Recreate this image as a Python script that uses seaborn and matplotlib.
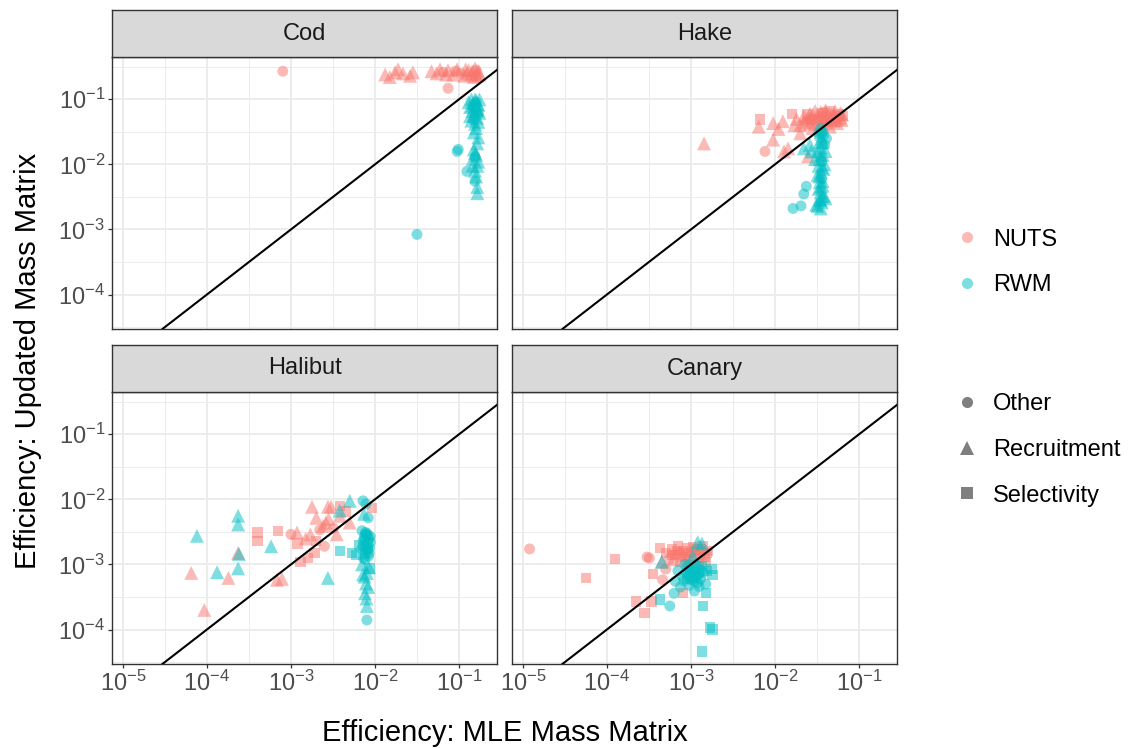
import matplotlib
matplotlib.use("Agg")
import matplotlib.pyplot as plt
import pandas as pd
import seaborn as sns
from matplotlib.lines import Line2D
from matplotlib.ticker import FixedLocator, NullFormatter

# ---------------- data (efficiency values) ----------------
models = ["Cod", "Hake", "Halibut", "Canary"]
methods = ["NUTS", "RWM"]
param_codes = {"O": "Other", "R": "Recruitment", "S": "Selectivity"}
param_order = ["Other", "Recruitment", "Selectivity"]
tick_values = [1e-5, 1e-4, 1e-3, 1e-2, 1e-1]
tick_labels = [r"$10^{-5}$", r"$10^{-4}$", r"$10^{-3}$", r"$10^{-2}$", r"$10^{-1}$"]
x_title = "Efficiency: MLE Mass Matrix"
y_title = "Efficiency: Updated Mass Matrix"

# (MLE efficiency, updated efficiency, parameter group)
cod_nuts = [
    (8.0e-4, 0.27, "O"), (0.0132, 0.24, "R"), (0.0150, 0.22, "R"), (0.0173, 0.26, "R"),
    (0.0188, 0.29, "R"), (0.0215, 0.25, "R"), (0.0261, 0.23, "R"), (0.0283, 0.26, "R"),
    (0.0470, 0.27, "R"), (0.0540, 0.25, "R"), (0.0594, 0.29, "R"), (0.0650, 0.26, "O"),
    (0.0700, 0.24, "R"), (0.0740, 0.28, "R"), (0.0740, 0.148, "O"), (0.0850, 0.24, "R"),
    (0.0900, 0.27, "O"), (0.0950, 0.29, "R"), (0.1050, 0.25, "O"), (0.1150, 0.23, "R"),
    (0.1240, 0.25, "R"), (0.1300, 0.28, "R"), (0.1430, 0.27, "R"), (0.1500, 0.22, "R"),
    (0.1550, 0.30, "R"), (0.1600, 0.25, "R"), (0.1640, 0.23, "R"), (0.1700, 0.27, "R"),
    (0.1750, 0.24, "R"), (0.1400, 0.24, "R"), (0.1200, 0.29, "R"), (0.1600, 0.28, "O"),
]
cod_rwm = [
    (0.140, 0.100, "R"), (0.160, 0.095, "R"), (0.150, 0.088, "R"), (0.170, 0.082, "R"),
    (0.135, 0.076, "R"), (0.160, 0.072, "R"), (0.145, 0.066, "R"), (0.175, 0.062, "R"),
    (0.150, 0.057, "R"), (0.165, 0.052, "R"), (0.140, 0.047, "R"), (0.155, 0.042, "R"),
    (0.160, 0.036, "R"), (0.150, 0.031, "R"), (0.170, 0.026, "R"), (0.165, 0.021, "R"),
    (0.150, 0.017, "R"), (0.160, 0.014, "R"), (0.145, 0.012, "R"), (0.165, 0.0095, "R"),
    (0.155, 0.0080, "R"), (0.160, 0.0065, "R"), (0.165, 0.0045, "R"), (0.165, 0.0036, "R"),
    (0.160, 0.090, "O"), (0.170, 0.060, "O"), (0.150, 0.075, "O"), (0.155, 0.013, "O"),
    (0.095, 0.0158, "O"), (0.098, 0.0170, "O"), (0.124, 0.0078, "O"), (0.155, 0.0055, "O"),
    (0.0316, 8.4e-4, "O"), (0.130, 0.090, "R"), (0.175, 0.100, "R"), (0.155, 0.100, "R"),
    (0.145, 0.080, "R"), (0.165, 0.068, "R"), (0.135, 0.055, "R"), (0.170, 0.045, "R"),
    (0.150, 0.048, "O"), (0.165, 0.085, "R"), (0.155, 0.015, "R"), (0.170, 0.011, "R"),
    (0.145, 0.0095, "R"),
]
hake_nuts = [
    (1.43e-3, 0.021, "R"), (7.6e-3, 0.0158, "O"), (6.6e-3, 0.049, "S"), (6.4e-3, 0.038, "R"),
    (9.5e-3, 0.043, "R"), (0.0124, 0.046, "R"), (9.5e-3, 0.024, "R"), (0.0143, 0.0176, "R"),
    (0.0128, 0.0158, "R"), (0.0247, 0.0133, "R"), (0.0160, 0.059, "S"), (0.0110, 0.035, "R"),
    (0.018, 0.050, "R"), (0.020, 0.040, "R"), (0.022, 0.055, "R"), (0.024, 0.045, "O"),
    (0.026, 0.060, "R"), (0.028, 0.036, "R"), (0.030, 0.050, "S"), (0.032, 0.058, "R"),
    (0.034, 0.042, "R"), (0.036, 0.062, "S"), (0.038, 0.048, "R"), (0.040, 0.055, "R"),
    (0.042, 0.040, "O"), (0.044, 0.060, "R"), (0.046, 0.052, "R"), (0.048, 0.045, "S"),
    (0.050, 0.058, "R"), (0.052, 0.066, "R"), (0.055, 0.050, "R"), (0.058, 0.055, "S"),
    (0.060, 0.062, "R"), (0.062, 0.048, "R"), (0.065, 0.056, "S"), (0.030, 0.066, "R"),
    (0.040, 0.068, "R"), (0.025, 0.052, "R"), (0.035, 0.033, "O"), (0.045, 0.038, "R"),
    (0.020, 0.030, "R"), (0.017, 0.040, "R"), (0.055, 0.043, "R"), (0.038, 0.063, "O"),
    (0.030, 0.045, "R"), (0.027, 0.048, "S"), (0.045, 0.065, "S"), (0.060, 0.052, "R"),
    (0.022, 0.045, "R"), (0.028, 0.058, "R"), (0.033, 0.050, "R"), (0.037, 0.055, "R"),
    (0.042, 0.050, "R"), (0.047, 0.058, "R"), (0.052, 0.054, "R"), (0.057, 0.060, "S"),
    (0.063, 0.058, "R"), (0.026, 0.042, "R"), (0.035, 0.064, "R"), (0.050, 0.047, "R"),
    (0.024, 0.060, "S"),
]
hake_rwm = [
    (0.035, 0.036, "O"), (0.037, 0.032, "O"), (0.033, 0.030, "O"), (0.038, 0.028, "O"),
    (0.036, 0.025, "R"), (0.034, 0.022, "R"), (0.039, 0.020, "O"), (0.035, 0.018, "R"),
    (0.032, 0.016, "R"), (0.037, 0.014, "R"), (0.034, 0.012, "R"), (0.036, 0.011, "O"),
    (0.033, 0.0095, "R"), (0.038, 0.0085, "R"), (0.035, 0.0075, "R"), (0.032, 0.0068, "R"),
    (0.036, 0.0060, "O"), (0.034, 0.0053, "R"), (0.037, 0.0047, "R"), (0.033, 0.0042, "R"),
    (0.035, 0.0037, "R"), (0.038, 0.0033, "R"), (0.034, 0.0029, "R"), (0.036, 0.0026, "R"),
    (0.032, 0.0023, "R"), (0.035, 0.0021, "R"), (0.031, 0.0024, "R"), (0.040, 0.0030, "R"),
    (0.039, 0.010, "R"), (0.030, 0.012, "R"), (0.0164, 0.0021, "O"), (0.0204, 0.0023, "O"),
    (0.022, 0.0035, "O"), (0.0236, 0.0046, "O"), (0.022, 0.0176, "R"), (0.027, 0.0158, "R"),
    (0.026, 0.020, "R"), (0.040, 0.016, "R"), (0.041, 0.025, "O"), (0.036, 0.030, "O"),
    (0.034, 0.026, "O"), (0.037, 0.022, "R"), (0.035, 0.014, "R"), (0.036, 0.0090, "R"),
    (0.034, 0.0065, "R"), (0.037, 0.0055, "R"), (0.035, 0.0045, "R"), (0.036, 0.0032, "R"),
    (0.035, 0.0028, "R"),
]
halibut_nuts = [
    (6.5e-5, 7.4e-4, "R"), (9.3e-5, 2.0e-4, "R"), (1.8e-4, 6.2e-4, "R"), (2.35e-4, 1.5e-3, "R"),
    (4.0e-4, 3.1e-3, "S"), (4.0e-4, 2.3e-3, "S"), (7.0e-4, 3.3e-3, "S"), (6.8e-4, 5.8e-4, "R"),
    (7.8e-4, 6.0e-4, "R"), (1.0e-3, 2.9e-3, "O"), (1.18e-3, 3.1e-3, "R"), (1.2e-3, 2.1e-3, "S"),
    (1.6e-3, 1.25e-3, "S"), (1.9e-3, 1.5e-3, "S"), (1.7e-3, 2.9e-3, "R"), (1.78e-3, 7.7e-3, "R"),
    (2.0e-3, 5.2e-3, "R"), (2.2e-3, 3.4e-3, "O"), (2.5e-3, 1.9e-3, "O"), (2.6e-3, 4.4e-3, "R"),
    (2.75e-3, 7.7e-3, "R"), (3.0e-3, 7.7e-3, "R"), (3.5e-3, 2.9e-3, "R"), (3.8e-3, 5.6e-3, "R"),
    (3.8e-3, 8.0e-3, "S"), (5.0e-3, 4.4e-3, "R"), (9.2e-3, 7.4e-3, "S"), (2.4e-3, 3.9e-3, "R"),
    (3.2e-3, 3.6e-3, "O"), (1.5e-3, 2.5e-3, "R"), (2.0e-3, 2.3e-3, "S"), (4.5e-3, 6.5e-3, "S"),
    (1.3e-3, 1.1e-3, "S"), (2.8e-3, 5.0e-3, "R"),
]
halibut_rwm = [
    (7.6e-5, 2.75e-3, "R"), (2.35e-4, 5.6e-3, "R"), (2.35e-4, 4.1e-3, "R"), (2.4e-4, 1.45e-3, "R"),
    (1.32e-4, 7.6e-4, "R"), (2.35e-4, 8.7e-4, "R"), (5.8e-4, 1.9e-3, "R"), (2.75e-3, 6.2e-4, "R"),
    (5.0e-3, 9.5e-3, "R"), (3.8e-3, 6.7e-3, "R"), (3.8e-3, 1.6e-3, "S"), (5.3e-3, 1.5e-3, "S"),
    (8.6e-3, 8.7e-4, "S"), (7.2e-3, 9.5e-3, "O"), (8.3e-3, 5.2e-3, "O"), (7.8e-3, 8.5e-3, "O"),
    (7.4e-3, 6.0e-3, "R"), (7.0e-3, 3.3e-3, "O"), (8.0e-3, 3.0e-3, "O"), (7.5e-3, 2.7e-3, "O"),
    (8.5e-3, 2.5e-3, "O"), (7.2e-3, 2.3e-3, "O"), (8.2e-3, 2.1e-3, "S"), (7.8e-3, 1.9e-3, "O"),
    (8.6e-3, 1.8e-3, "O"), (7.0e-3, 1.7e-3, "O"), (8.0e-3, 1.6e-3, "O"), (7.6e-3, 1.45e-3, "S"),
    (8.4e-3, 1.35e-3, "O"), (7.3e-3, 1.25e-3, "O"), (8.1e-3, 2.8e-3, "O"), (6.5e-3, 2.0e-3, "S"),
    (6.0e-3, 1.4e-3, "S"), (8.8e-3, 2.2e-3, "O"), (7.7e-3, 3.1e-3, "O"), (7.0e-3, 1.0e-3, "R"),
    (8.0e-3, 7.4e-4, "R"), (7.5e-3, 6.5e-4, "R"), (7.8e-3, 5.1e-4, "R"), (8.3e-3, 4.5e-4, "R"),
    (7.6e-3, 3.6e-4, "R"), (7.9e-3, 3.0e-4, "R"), (8.0e-3, 2.3e-4, "R"), (8.0e-3, 1.4e-4, "O"),
    (8.5e-3, 9.0e-4, "R"), (7.2e-3, 7.0e-4, "R"), (7.5e-3, 2.4e-3, "O"), (8.2e-3, 1.7e-3, "O"),
    (7.8e-3, 2.9e-3, "O"), (8.5e-3, 1.5e-3, "O"), (7.2e-3, 1.9e-3, "O"), (8.8e-3, 2.7e-3, "O"),
    (7.6e-3, 1.2e-3, "O"),
]
canary_nuts = [
    (1.2e-5, 1.73e-3, "O"), (5.6e-5, 6.2e-4, "S"), (1.25e-4, 1.2e-3, "S"), (2.2e-4, 2.7e-4, "S"),
    (2.8e-4, 1.8e-4, "S"), (3.4e-4, 2.7e-4, "S"), (3.5e-4, 7.1e-4, "S"), (3.0e-4, 1.3e-3, "O"),
    (3.2e-4, 1.25e-3, "O"), (4.6e-4, 5.8e-4, "O"), (8.0e-4, 3.6e-4, "S"), (4.3e-4, 1.8e-3, "S"),
    (5.0e-4, 1.5e-3, "S"), (5.5e-4, 1.2e-3, "O"), (6.0e-4, 1.7e-3, "S"), (6.5e-4, 1.4e-3, "S"),
    (7.0e-4, 1.9e-3, "S"), (7.5e-4, 1.1e-3, "S"), (8.0e-4, 1.6e-3, "S"), (8.5e-4, 1.3e-3, "S"),
    (9.0e-4, 1.8e-3, "S"), (1.0e-3, 1.5e-3, "S"), (1.1e-3, 1.2e-3, "S"), (1.2e-3, 1.7e-3, "S"),
    (1.3e-3, 1.4e-3, "S"), (1.4e-3, 1.9e-3, "S"), (1.5e-3, 1.1e-3, "S"), (1.6e-3, 1.6e-3, "S"),
    (6.2e-4, 1.2e-3, "R"), (4.5e-4, 1.1e-3, "R"), (9.5e-4, 1.0e-3, "O"), (7.2e-4, 1.5e-3, "O"),
    (1.25e-3, 1.0e-3, "S"), (5.0e-4, 8.5e-4, "O"), (1.05e-3, 1.85e-3, "S"), (6.8e-4, 1.6e-3, "S"),
    (8.8e-4, 1.5e-3, "S"), (1.1e-3, 1.6e-3, "S"), (1.3e-3, 1.7e-3, "S"), (7.8e-4, 1.3e-3, "S"),
    (9.5e-4, 1.2e-3, "S"), (1.45e-3, 1.3e-3, "S"), (1.55e-3, 1.5e-3, "S"), (6.0e-4, 1.4e-3, "S"),
]
canary_rwm = [
    (5.6e-4, 2.3e-4, "O"), (6.3e-4, 3.6e-4, "O"), (1.1e-3, 3.9e-4, "O"), (1.5e-3, 3.6e-4, "S"),
    (4.3e-4, 2.9e-4, "S"), (1.4e-3, 2.3e-4, "S"), (1.7e-3, 1.07e-4, "S"), (1.8e-3, 1.0e-4, "S"),
    (1.35e-3, 4.6e-5, "S"), (1.75e-3, 8.5e-4, "S"), (1.8e-3, 6.9e-4, "S"), (1.2e-3, 2.2e-3, "R"),
    (1.35e-3, 2.1e-3, "R"), (1.05e-3, 1.35e-3, "R"), (4.5e-4, 1.1e-3, "R"), (7.0e-4, 8.0e-4, "O"),
    (8.0e-4, 6.5e-4, "O"), (9.0e-4, 9.0e-4, "O"), (1.0e-3, 7.0e-4, "O"), (1.1e-3, 5.5e-4, "O"),
    (1.2e-3, 8.5e-4, "O"), (1.3e-3, 6.0e-4, "O"), (1.4e-3, 7.5e-4, "O"), (1.5e-3, 5.0e-4, "O"),
    (9.5e-4, 4.8e-4, "O"), (8.5e-4, 1.0e-3, "O"), (1.15e-3, 1.0e-3, "O"), (1.25e-3, 4.6e-4, "O"),
    (6.5e-4, 5.5e-4, "O"), (7.5e-4, 4.5e-4, "O"), (1.05e-3, 6.2e-4, "O"), (1.35e-3, 9.5e-4, "S"),
    (1.55e-3, 8.0e-4, "S"), (9.0e-4, 6.0e-4, "S"), (1.0e-3, 8.0e-4, "O"), (1.2e-3, 6.8e-4, "O"),
    (8.8e-4, 7.5e-4, "O"), (1.0e-3, 5.8e-4, "O"), (1.1e-3, 7.5e-4, "O"), (1.2e-3, 5.2e-4, "O"),
    (9.2e-4, 6.8e-4, "O"), (1.3e-3, 8.2e-4, "O"), (1.15e-3, 6.4e-4, "O"), (8.2e-4, 5.6e-4, "O"),
    (1.05e-3, 9.0e-4, "O"), (1.25e-3, 7.2e-4, "O"), (9.6e-4, 8.4e-4, "O"),
]

groups = [
    ("Cod", "NUTS", cod_nuts), ("Cod", "RWM", cod_rwm),
    ("Hake", "NUTS", hake_nuts), ("Hake", "RWM", hake_rwm),
    ("Halibut", "NUTS", halibut_nuts), ("Halibut", "RWM", halibut_rwm),
    ("Canary", "NUTS", canary_nuts), ("Canary", "RWM", canary_rwm),
]
rows = []
for model, method, pts in groups:
    for mle, upd, code in pts:
        rows.append({"model": model, "method": method, "param": param_codes[code],
                     "mle": mle, "updated": upd})
df = pd.DataFrame(rows)

# ---------------- styling ----------------
plt.rcParams["font.family"] = ["Liberation Sans", "DejaVu Sans"]
plt.rcParams["mathtext.fontset"] = "custom"
plt.rcParams["mathtext.rm"] = "Liberation Sans"
plt.rcParams["mathtext.it"] = "Liberation Sans:italic"
plt.rcParams["mathtext.bf"] = "Liberation Sans:bold"

palette = {"NUTS": "#F8766D", "RWM": "#00BFC4"}
markers = {"Other": "o", "Recruitment": "^", "Selectivity": "s"}
marker_area = {"Other": 62, "Recruitment": 100, "Selectivity": 55}

W, H = 1128, 749
fig = plt.figure(figsize=(W / 100, H / 100), dpi=100)


def rect(x, y, w, h):
    return [x / W, 1 - (y + h) / H, w / W, h / H]


panel_x = [112, 512]
panel_y = [57, 392]
panel_w, panel_h = 385, 272
strip_h = 47
xlim = (10 ** -5.13, 10 ** -0.548)
ylim = (10 ** -4.53, 10 ** -0.35)
minor_pos = [10 ** (k + 0.5) for k in range(-6, 0)]

for i, model in enumerate(models):
    r, c = divmod(i, 2)
    x0, y0 = panel_x[c], panel_y[r]
    ax = fig.add_axes(rect(x0, y0, panel_w, panel_h))
    sub = df[df["model"] == model]
    sns.scatterplot(data=sub, x="mle", y="updated", hue="method", style="param",
                    size="param", sizes=marker_area, size_order=param_order,
                    hue_order=methods, style_order=param_order, palette=palette,
                    markers=markers, alpha=0.5, linewidth=0, legend=False, ax=ax)
    ax.set_xscale("log")
    ax.set_yscale("log")
    ax.set_xlim(*xlim)
    ax.set_ylim(*ylim)
    ax.axline((1e-5, 1e-5), (1e-1, 1e-1), color="black", lw=1.5, zorder=3)
    ax.xaxis.set_major_locator(FixedLocator(tick_values))
    ax.yaxis.set_major_locator(FixedLocator(tick_values))
    ax.xaxis.set_minor_locator(FixedLocator(minor_pos))
    ax.yaxis.set_minor_locator(FixedLocator(minor_pos))
    ax.xaxis.set_minor_formatter(NullFormatter())
    ax.yaxis.set_minor_formatter(NullFormatter())
    ax.set_xticklabels(tick_labels)
    ax.set_yticklabels(tick_labels)
    ax.set_axisbelow(True)
    ax.grid(which="major", color="#EBEBEB", lw=1.3)
    ax.grid(which="minor", color="#EBEBEB", lw=0.65)
    ax.tick_params(which="minor", length=0)
    ax.tick_params(which="major", length=3, width=0.9, color="#333333",
                   labelcolor="#4D4D4D", labelsize=17, pad=2)
    if r == 0:
        ax.tick_params(axis="x", bottom=False, labelbottom=False)
    if c == 1:
        ax.tick_params(axis="y", left=False, labelleft=False)
    ax.set_xlabel("")
    ax.set_ylabel("")
    for sp in ax.spines.values():
        sp.set_color("#333333")
        sp.set_linewidth(1.0)
    # facet strip
    sax = fig.add_axes(rect(x0, y0 - strip_h, panel_w, strip_h))
    sax.set_facecolor("#D9D9D9")
    sax.set_xticks([])
    sax.set_yticks([])
    for sp in sax.spines.values():
        sp.set_color("#333333")
        sp.set_linewidth(1.0)
    sax.text(0.5, 0.5, model, ha="center", va="center", fontsize=17,
             color="#1A1A1A", transform=sax.transAxes)

fig.text(504.5 / W, 1 - 733 / H, x_title, ha="center", va="center", fontsize=21)
fig.text(28 / W, 1 - 360.5 / H, y_title, ha="center", va="center", fontsize=21,
         rotation=90)

h1 = [Line2D([0], [0], marker="o", ls="", color=palette[m], alpha=0.5,
             markersize=8, markeredgewidth=0) for m in methods]
fig.legend(h1, methods, loc="center left", bbox_to_anchor=(955 / W, 1 - 262.5 / H),
           frameon=False, fontsize=17, handlelength=1.0, handletextpad=0.6,
           labelspacing=1.0, borderpad=0, borderaxespad=0)
h2 = [Line2D([0], [0], marker=markers[p], ls="", color="black", alpha=0.5,
             markersize=8 if p != "Recruitment" else 9.5, markeredgewidth=0)
      for p in param_order]
fig.legend(h2, param_order, loc="center left", bbox_to_anchor=(955 / W, 1 - 450 / H),
           frameon=False, fontsize=17, handlelength=1.0, handletextpad=0.6,
           labelspacing=1.0, borderpad=0, borderaxespad=0)

fig.savefig("out.png", dpi=100)
